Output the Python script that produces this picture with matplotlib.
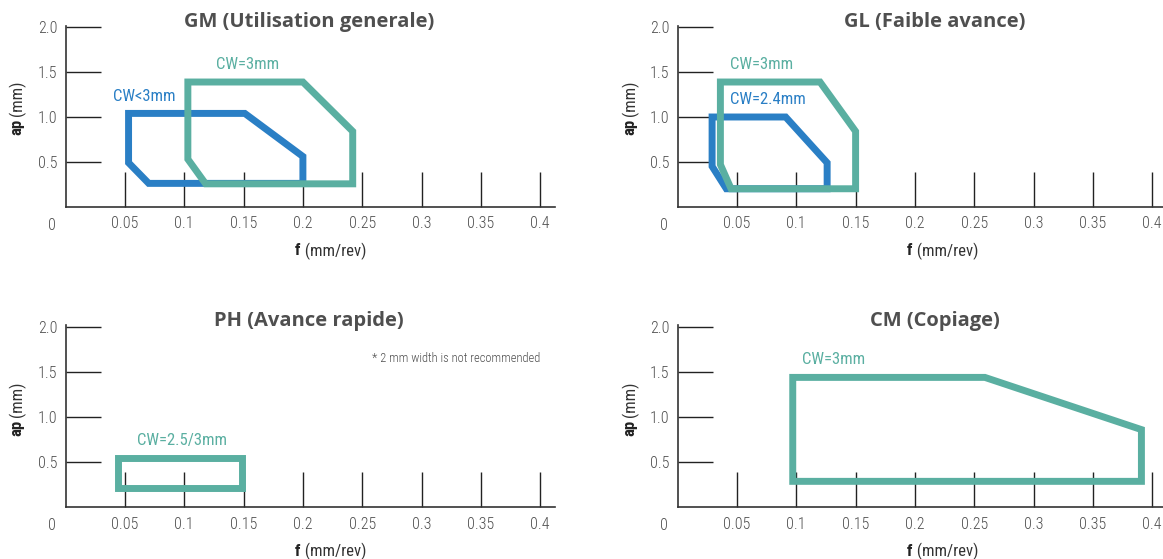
import matplotlib
matplotlib.use("Agg")
import matplotlib.pyplot as plt
from matplotlib import font_manager

# --- chart data -------------------------------------------------------------
f_ticks = [0.05, 0.1, 0.15, 0.2, 0.25, 0.3, 0.35, 0.4]
f_tick_labels = ["0.05", "0.1", "0.15", "0.2", "0.25", "0.3", "0.35", "0.4"]
ap_ticks = [0.5, 1.0, 1.5, 2.0]
ap_tick_labels = ["0.5", "1.0", "1.5", "2.0"]

titles = ["GM (Utilisation generale)", "GL (Faible avance)",
          "PH (Avance rapide)", "CM (Copiage)"]

# GM: general purpose
gm_small_f = [0.053, 0.151, 0.200, 0.200, 0.070, 0.053]
gm_small_ap = [1.04, 1.04, 0.56, 0.26, 0.26, 0.49]
gm_3mm_f = [0.103, 0.200, 0.242, 0.242, 0.118, 0.103]
gm_3mm_ap = [1.39, 1.39, 0.84, 0.255, 0.255, 0.53]

# GL: low feed
gl_24_f = [0.029, 0.091, 0.126, 0.126, 0.041, 0.029]
gl_24_ap = [1.00, 1.00, 0.49, 0.20, 0.20, 0.45]
gl_3mm_f = [0.036, 0.120, 0.150, 0.150, 0.045, 0.036]
gl_3mm_ap = [1.39, 1.39, 0.84, 0.20, 0.20, 0.47]

# PH: high feed
ph_f = [0.044, 0.149, 0.149, 0.044]
ph_ap = [0.55, 0.55, 0.215, 0.215]

# CM: copying
cm_f = [0.097, 0.259, 0.391, 0.391, 0.097]
cm_ap = [1.44, 1.44, 0.86, 0.285, 0.285]

# --- styling ----------------------------------------------------------------
BLUE = "#2a7fc5"
GREEN = "#5aafa1"
TEXT = "#4f4f4f"
AXIS = "#333333"


def pick(*names):
    for n in names:
        try:
            font_manager.findfont(n, fallback_to_default=False)
            return n
        except Exception:
            continue
    return "DejaVu Sans"


NARROW = pick("Liberation Sans Narrow", "Roboto Condensed", "Open Sans Condensed",
              "DejaVu Sans Condensed", "Liberation Sans")
TITLE_FONT = pick("Open Sans", "Lato", "DejaVu Sans")

W, H = 1163, 559
fig = plt.figure(figsize=(W / 100, H / 100), dpi=100)


def px_axes(x0, y_zero, xmax, px_per_f, px_per_ap, ymax):
    left = x0 / W
    width = xmax * px_per_f / W
    bottom = (H - y_zero) / H
    height = ymax * px_per_ap / H
    return fig.add_axes([left, bottom, width, height])


def setup(ax, xmax, ymax):
    ax.set_xlim(0, xmax)
    ax.set_ylim(0, ymax)
    for s in ("top", "right"):
        ax.spines[s].set_visible(False)
    for s in ("left", "bottom"):
        ax.spines[s].set_color(AXIS)
        ax.spines[s].set_linewidth(1.2)
    ax.set_xticks(f_ticks)
    ax.set_xticklabels(f_tick_labels)
    ax.set_yticks(ap_ticks)
    ax.set_yticklabels(ap_tick_labels)
    ax.tick_params(axis="both", direction="in", length=25, width=1.0,
                   color="#222222", labelcolor=TEXT, labelsize=11.5)
    ax.tick_params(axis="x", pad=7)
    ax.tick_params(axis="y", pad=6)
    for lab in ax.get_xticklabels() + ax.get_yticklabels():
        lab.set_fontfamily(NARROW)
        lab.set_fontweight("light")
    ax.text(-0.008, -0.06, "0", transform=ax.get_xaxis_transform(),
            ha="right", va="top", fontsize=11.5, color=TEXT, family=NARROW,
            fontweight="light")
    ax.patch.set_alpha(0)


def outline(ax, fs, aps, color):
    ax.fill(fs, aps, facecolor="none", edgecolor=color, linewidth=5.0,
            joinstyle="miter", zorder=3)


def axis_labels(fig_x_ylab, fig_y_ylab, fig_x_xlab, fig_y_xlab):
    fx = fig_x_ylab / W
    fy = 1 - fig_y_ylab / H
    fig.text(fx, fy, "ap", rotation=90, ha="center", va="top",
             fontsize=12, fontweight="bold", color="#222222", family=NARROW)
    fig.text(fx, fy + 0.006, "(mm)", rotation=90, ha="center", va="bottom",
             fontsize=12, color="#333333", family=NARROW)
    gx = fig_x_xlab / W
    gy = 1 - fig_y_xlab / H
    fig.text(gx, gy, "f", ha="right", va="center", fontsize=12,
             fontweight="bold", color="#222222", family=NARROW)
    fig.text(gx + 0.001, gy, " (mm/rev)", ha="left", va="center", fontsize=12,
             color="#333333", family=NARROW)


PXF = 1186.0
ax_gm = px_axes(65.7, 206.7, 0.4125, PXF, 89.7, 2.02)
ax_gl = px_axes(677.7, 206.7, 0.41, PXF, 89.7, 2.02)
ax_ph = px_axes(65.7, 507.0, 0.4125, PXF, 90.0, 2.02)
ax_cm = px_axes(677.7, 507.0, 0.41, PXF, 90.0, 2.02)

for ax, xm in ((ax_gm, 0.4125), (ax_gl, 0.41), (ax_ph, 0.4125), (ax_cm, 0.41)):
    setup(ax, xm, 2.02)

# GM
outline(ax_gm, gm_small_f, gm_small_ap, BLUE)
outline(ax_gm, gm_3mm_f, gm_3mm_ap, GREEN)
ax_gm.text(0.040, 1.23, "CW<3mm", color=BLUE, fontsize=12, family=NARROW,
           ha="left", va="center")
ax_gm.text(0.127, 1.59, "CW=3mm", color=GREEN, fontsize=12, family=NARROW,
           ha="left", va="center")

# GL
outline(ax_gl, gl_24_f, gl_24_ap, BLUE)
outline(ax_gl, gl_3mm_f, gl_3mm_ap, GREEN)
ax_gl.text(0.0445, 1.59, "CW=3mm", color=GREEN, fontsize=12, family=NARROW,
           ha="left", va="center")
ax_gl.text(0.0445, 1.19, "CW=2.4mm", color=BLUE, fontsize=12, family=NARROW,
           ha="left", va="center")

# PH
outline(ax_ph, ph_f, ph_ap, GREEN)
ax_ph.text(0.0605, 0.74, "CW=2.5/3mm", color=GREEN, fontsize=12, family=NARROW,
           ha="left", va="center")
ax_ph.text(0.4, 1.65, "* 2 mm width is not recommended", color=TEXT,
           fontsize=9, family=NARROW, ha="right", va="center", fontweight="light")

# CM
outline(ax_cm, cm_f, cm_ap, GREEN)
ax_cm.text(0.105, 1.64, "CW=3mm", color=GREEN, fontsize=12, family=NARROW,
           ha="left", va="center")

# titles
title_pos = [(309, 22), (935, 22), (309, 321), (935, 321)]
for t, (x, y) in zip(titles, title_pos):
    fig.text(x / W, 1 - y / H, t, ha="center", va="center", fontsize=14.5,
             fontweight="bold", color=TEXT, family=TITLE_FONT)

# axis titles
axis_labels(17, 119, 300, 251)
axis_labels(630, 119, 912, 251)
axis_labels(17, 420, 300, 551)
axis_labels(630, 420, 912, 551)

fig.savefig("out.png", dpi=100, facecolor="white")
